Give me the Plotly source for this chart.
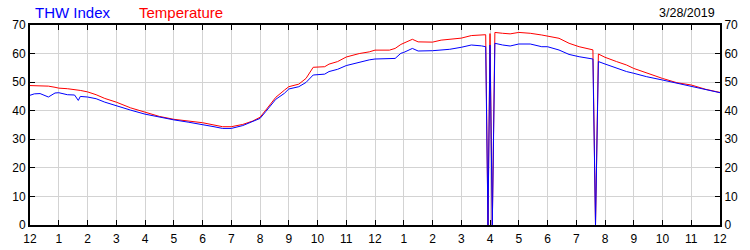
import plotly.graph_objects as go

# Hours since midnight (0..24), 3/28/2019
hours = [0.0, 0.15, 0.35, 0.64, 0.87, 1.0, 1.3, 1.55, 1.68, 1.75, 2.0, 2.3, 2.6, 3.0, 3.5,
         4.0, 4.5, 5.0, 5.5, 6.0, 6.4, 6.7, 7.0, 7.4, 7.75, 8.0, 8.2, 8.55, 8.85, 9.0,
         9.35, 9.6, 9.85, 10.25, 10.4, 10.7, 11.0, 11.45, 11.8, 12.0, 12.5, 12.7, 12.9, 13.0,
         13.3, 13.5, 14.0, 14.3, 14.6, 15.0, 15.35, 15.7, 15.85, 15.93, 16.0, 16.08, 16.17,
         16.44, 16.7, 17.0, 17.4, 17.8, 18.0, 18.4, 18.75, 19.1, 19.58, 19.67, 19.77,
         20.0, 20.4, 20.75, 21.0, 21.45, 22.0, 22.5, 23.0, 23.5, 24.0]

temperature = [48.8, 48.8, 48.8, 48.6, 48.2, 47.9, 47.7, 47.5, 47.3, 47.1, 46.6, 45.6, 44.3, 43.0, 41.0,
               39.4, 38.0, 37.0, 36.4, 35.8, 35.0, 34.4, 34.4, 35.2, 36.4, 37.7, 40.2, 44.7, 47.2, 48.4,
               49.3, 51.3, 55.2, 55.4, 56.3, 57.2, 58.8, 60.0, 60.6, 61.2, 61.2, 61.8, 63.2, 63.6,
               65.0, 64.1, 64.0, 64.7, 65.0, 65.4, 66.3, 66.4, 66.6, 0.0, 67.0, 0.0, 67.4,
               67.1, 66.9, 67.4, 67.1, 66.5, 66.15, 65.35, 63.6, 62.4, 61.3, 0.0, 59.85,
               58.7, 57.2, 56.0, 54.8, 53.1, 51.3, 49.8, 49.0, 47.5, 46.4]

thw_index = [45.4, 45.9, 46.0, 44.8, 46.2, 46.3, 45.6, 45.5, 43.6, 45.0, 44.8, 44.2, 43.0, 41.7, 40.2,
             38.8, 37.7, 36.8, 36.0, 35.2, 34.4, 33.8, 33.8, 34.8, 36.2, 37.3, 39.7, 44.0, 46.1, 47.6,
             48.4, 49.9, 52.5, 52.8, 53.7, 54.5, 55.8, 57.0, 57.8, 58.1, 58.1, 58.3, 60.1, 60.4,
             61.8, 60.9, 61.0, 61.2, 61.5, 62.2, 63.0, 62.7, 62.4, 0.0, 63.0, 0.0, 63.6,
             63.0, 62.65, 63.35, 63.35, 62.4, 62.4, 61.25, 59.7, 58.9, 58.1, 0.0, 57.2,
             56.35, 54.8, 53.7, 53.1, 51.9, 50.75, 49.6, 48.4, 47.25, 46.3]

tick_hours = list(range(0, 25))
tick_labels = ["12", "1", "2", "3", "4", "5", "6", "7", "8", "9", "10", "11",
               "12", "1", "2", "3", "4", "5", "6", "7", "8", "9", "10", "11", "12"]
y_ticks = [0, 10, 20, 30, 40, 50, 60, 70]
date_label = "3/28/2019"

fig = go.Figure()
fig.add_trace(go.Scatter(x=hours, y=temperature, mode="lines", name="Temperature",
                         line=dict(color="#ff0000", width=1), yaxis="y"))
fig.add_trace(go.Scatter(x=hours, y=thw_index, mode="lines", name="THW Index",
                         line=dict(color="#0000ff", width=1), yaxis="y2"))

axis_font = dict(family="Liberation Sans, Arial, sans-serif", size=12, color="#000000")
common_y = dict(range=[0, 70], tickvals=y_ticks, ticks="inside", ticklen=5, tickcolor="#000000",
                tickwidth=1, tickfont=axis_font, showline=True, linecolor="#000000", linewidth=2,
                zeroline=False, fixedrange=True, automargin=False)

fig.update_layout(
    width=750, height=250,
    margin=dict(l=30, r=30, t=25, b=25),
    paper_bgcolor="#ffffff", plot_bgcolor="#ffffff",
    showlegend=False,
    xaxis=dict(range=[0, 24], tickvals=tick_hours, ticktext=tick_labels, ticks="inside",
               ticklen=5, tickcolor="#000000", tickwidth=1, tickfont=axis_font,
               showline=True, linecolor="#000000", linewidth=2, mirror="ticks",
               showgrid=True, gridcolor="#d3d3d3", gridwidth=1, zeroline=False,
               automargin=False, ticklabelstandoff=2),
    yaxis=dict(**common_y, side="left", showgrid=True, gridcolor="#d3d3d3", gridwidth=1),
    yaxis2=dict(**common_y, side="right", overlaying="y", showgrid=False),
    annotations=[
        dict(text="THW Index", xref="paper", yref="paper", x=0.004, y=1.065,
             xanchor="left", yanchor="middle", showarrow=False,
             font=dict(family="Liberation Sans, Arial, sans-serif", size=15, color="#0000ff")),
        dict(text="Temperature", xref="paper", yref="paper", x=0.1546, y=1.065,
             xanchor="left", yanchor="middle", showarrow=False,
             font=dict(family="Liberation Sans, Arial, sans-serif", size=15, color="#ff0000")),
        dict(text=date_label, xref="paper", yref="paper", x=0.9957, y=1.062,
             xanchor="right", yanchor="middle", showarrow=False,
             font=dict(family="Liberation Sans, Arial, sans-serif", size=12.5, color="#000000")),
    ],
)

fig.write_html("out.html")
